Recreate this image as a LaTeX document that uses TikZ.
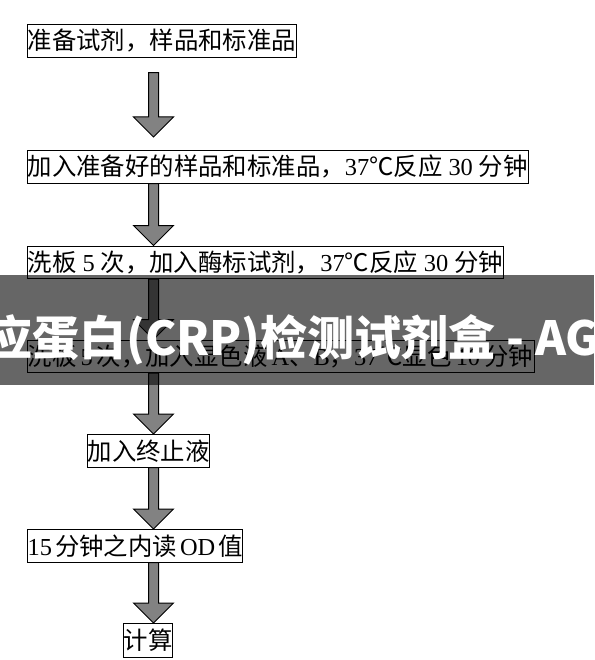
\documentclass[tikz,border=0pt]{standalone}
\usepackage{fontspec}
\setmainfont{Liberation Serif}
\newfontfamily\cjk{Noto Sans CJK SC}
\usetikzlibrary{calc}
\newcommand\zh[1]{{\cjk #1}}
\newcommand\spc{\hspace{6pt}}
\newcommand\spn{\hspace{4pt}}
\newcommand\spt{\hspace{3pt}}
\definecolor{arrgray}{HTML}{828282}
\tikzset{
  stepbox/.style={draw=black, line width=1pt, inner xsep=0pt, inner ysep=0pt,
    minimum height=32.7pt, anchor=north west, fill=white,
    font=\fontsize{24.4}{25}\selectfont},
  blockarr/.style={draw=black, line width=1pt, fill=arrgray, line join=miter},
  banner/.style={fill=black, fill opacity=0.6, draw=none},
  bannertext/.style={anchor=base west, text=white, inner sep=0pt,
    font=\cjk\bfseries\fontsize{47}{47}\selectfont}
}
\newcommand\boxtext[2]{\makebox[#1][l]{\hspace{0.5pt}#2}}
% #1 from node, #2 to node, #3 top gap, #4 bottom gap
\newcommand\blkarrow[4]{%
  \draw[blockarr] let \p1=(ax |- #1.south), \p2=(ax |- #2.north) in
    (\x1-5pt,\y1-#3) -- (\x1+5pt,\y1-#3) -- (\x1+5pt,\y2+#4+20pt)
    -- (\x1+20pt,\y2+#4+20pt) -- (\x1,\y2+#4) -- (\x1-20pt,\y2+#4+20pt)
    -- (\x1-5pt,\y2+#4+20pt) -- cycle;}
\begin{document}
\begin{tikzpicture}[x=1pt,y=-1pt]
\useasboundingbox (0,0) rectangle (594,660);
\fill[white] (0,0) rectangle (594,660);
\coordinate (ax) at (153.5,0);

\node[stepbox] (b1) at (26.7,24) {\boxtext{269.3pt}{\zh{准备试剂，样品和标准品}}};
\node[stepbox] (b2) at (26.7,150) {\boxtext{501.3pt}{\zh{加入准备好的样品和标准品，}37\zh{℃反应}\spc 30\spc\zh{分钟}}};
\node[stepbox] (b3) at (26.7,245.5) {\boxtext{476.3pt}{\zh{洗板}\spc 5\spc\zh{次，加入酶标试剂，}37\zh{℃反应}\spc 30\spc\zh{分钟}}};
\node[stepbox] (b4) at (26.7,339.5) {\boxtext{507.3pt}{\zh{洗板}\spn 5\spn\zh{次，加入显色液}\spn A\zh{、}B\zh{，}37\zh{℃显色}\spn 10\spn\zh{分钟}}};
\node[stepbox] (b5) at (86.7,434) {\boxtext{122.3pt}{\zh{加入终止液}}};
\node[stepbox] (b6) at (26.7,529) {\boxtext{215.3pt}{15\spt\zh{分钟之内读}\spt OD\spt\zh{值}}};
\node[stepbox, minimum height=34pt] (b7) at (122.7,623) {\boxtext{49pt}{\zh{计算}}};

\blkarrow{b1}{b2}{15pt}{13pt}
\blkarrow{b2}{b3}{0pt}{0pt}
\blkarrow{b3}{b4}{0pt}{0pt}
\blkarrow{b4}{b5}{0pt}{0pt}
\blkarrow{b5}{b6}{0pt}{0pt}
\blkarrow{b6}{b7}{0pt}{0pt}

\begin{scope}
\clip (0,0) rectangle (594,660);
\path[banner] (0,275) rectangle (594,385);
\node[bannertext] (wm) at (-15,355) {应蛋白(CRP)检测试剂盒 - AGE};
\end{scope}
\end{tikzpicture}
\end{document}
